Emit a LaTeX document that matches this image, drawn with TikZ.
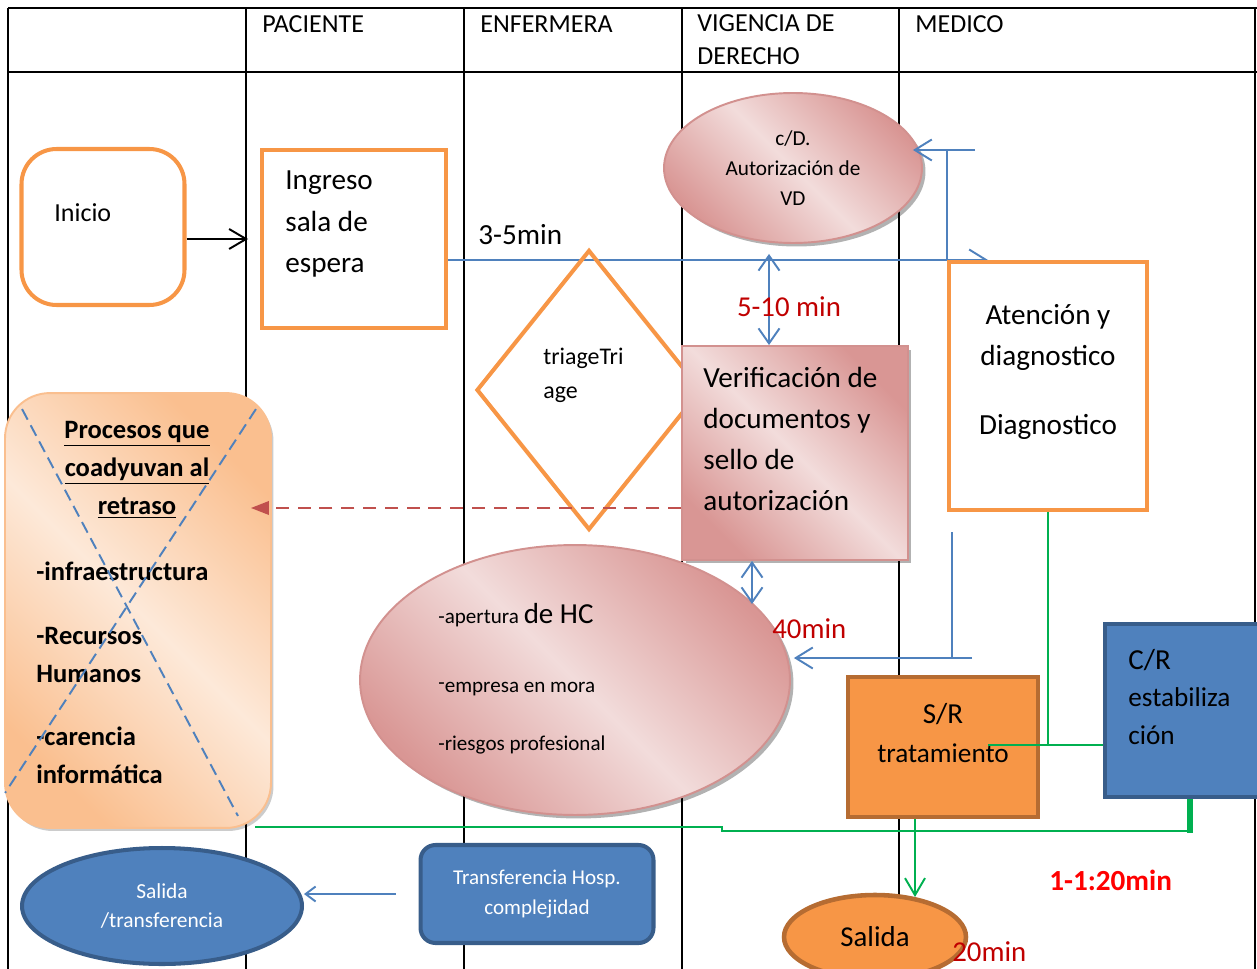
\documentclass[tikz,border=0pt]{standalone}
\usepackage{fontspec}
\setmainfont{Carlito}
\usetikzlibrary{arrows.meta, positioning, calc, shapes.geometric, shadows, backgrounds}

\definecolor{wdorange}{RGB}{247,150,70}
\definecolor{wdbrown}{RGB}{182,108,50}
\definecolor{wdblue}{RGB}{79,129,189}
\definecolor{wdnavy}{RGB}{56,93,138}
\definecolor{pinkdk}{RGB}{217,150,148}
\definecolor{pinklt}{RGB}{242,220,219}
\definecolor{pinkbd}{RGB}{210,145,143}
\definecolor{peachdk}{RGB}{250,191,143}
\definecolor{peachlt}{RGB}{253,233,217}
\definecolor{wdred}{RGB}{192,0,0}
\definecolor{dashred}{RGB}{192,80,77}
\definecolor{wdgreen}{RGB}{0,176,80}

\newcommand{\fsz}[2]{\fontsize{#1}{#2}\selectfont}

\begin{document}
\begin{tikzpicture}[
    x=0.02cm, y=-0.02cm,
    font=\fsz{16.6}{23.5},
    lane/.style={line width=1.1pt, black},
    txt/.style={inner sep=0pt, align=left, anchor=west},
    hdr/.style={txt, font=\fsz{14.8}{18.7}},
    redlbl/.style={txt, text=wdred, font=\fsz{16.4}{20}},
    obox/.style={draw=wdorange, line width=2.3pt, inner sep=0pt},
    orbox/.style={draw=wdbrown, line width=2.6pt, fill=wdorange, inner sep=0pt},
    bluebox/.style={draw=wdnavy, line width=2.3pt, fill=wdblue, inner sep=0pt},
    pinkshape/.style={draw=pinkbd, line width=1.1pt, inner sep=0pt,
        left color=pinkdk, right color=pinkdk, middle color=pinklt, shading angle=135,
        drop shadow={shadow xshift=0.07cm, shadow yshift=-0.07cm, fill=black, opacity=0.3}},
    peachshape/.style={draw=peachdk, line width=1.1pt, inner sep=0pt,
        left color=peachdk, right color=peachdk, middle color=peachlt, shading angle=135,
        drop shadow={shadow xshift=0.05cm, shadow yshift=-0.06cm, fill=black, opacity=0.2}},
    lineb/.style={draw=wdblue, line width=1.1pt},
    flowb/.style={lineb, -{Straight Barb[length=0.34cm, width=0.42cm]}},
    dflowb/.style={lineb, {Straight Barb[length=0.3cm, width=0.42cm]}-{Straight Barb[length=0.3cm, width=0.42cm]}},
    flowk/.style={line width=1.1pt, black, -{Straight Barb[length=0.34cm, width=0.4cm]}},
    redflow/.style={draw=dashred, line width=1.1pt, dash pattern=on 7.4pt off 5pt,
        -{Triangle[length=0.36cm, width=0.27cm]}},
    xline/.style={draw=wdblue, line width=1.1pt, dash pattern=on 6.8pt off 3.6pt},
    lineg/.style={draw=wdgreen, line width=1.1pt},
    flowg/.style={lineg, -{Straight Barb[length=0.34cm, width=0.4cm]}},
]
\useasboundingbox (0,0) rectangle (1257,969);

% lane headers
\node[hdr] (hpac) at (262,24) {PACIENTE};
\node[hdr] (henf) at (480,24) {ENFERMERA};
\node[hdr] (hvig) at (697,40) {VIGENCIA DE\\DERECHO};
\node[hdr] (hmed) at (915,24) {MEDICO};

% first row: start, waiting room, authorisation
\node[obox, rounded corners=0.7cm, minimum width=3.26cm, minimum height=3.12cm] (inicio) at (103,227) {};
\node[txt, font=\fsz{14.8}{18}] (inicio-t) at (54,213) {Inicio};
\node[obox, minimum width=3.68cm, minimum height=3.56cm] (ingreso) at (354,239) {};
\node[txt] (ingreso-t) at (285,224) {Ingreso\\sala de\\espera};
\node[txt] (t35) at (478,235) {3-5min};
\node[pinkshape, ellipse, minimum width=5.16cm, minimum height=3cm,
      font=\fsz{12.1}{17}, align=center] (vd) at (793,168) {c/D.\\Autorización de\\VD};

% triage, document check, doctor
\node[obox, diamond, minimum width=4.5cm, minimum height=5.6cm] (triage) at (589,390) {};
\node[txt, font=\fsz{13.6}{19.3}] (triage-t) at (543,375) {triageTri\\age};
\node[pinkshape, minimum width=4.52cm, minimum height=4.28cm] (verif) at (795,453) {};
\node[txt] (verif-t) at (703,439) {Verificación de\\documentos y\\sello de\\autorización};
\node[obox, fill=white, minimum width=3.96cm, minimum height=4.96cm] (atencion) at (1048,386) {};
\node[txt, anchor=center, align=center] (atencion-t) at (1048,372) {Atención y\\diagnostico\\[15.5pt]Diagnostico};

% crossed-out box of delaying factors
\node[peachshape, rounded corners=0.9cm, minimum width=5.32cm, minimum height=8.7cm] (procesos) at (138,610.5) {};
\node[txt, anchor=center, align=center, font=\bfseries\fsz{15.1}{21.5}] (procesos-t) at (137,470)
     {\underline{Procesos que}\\\underline{coadyuvan al}\\\underline{retraso}};
\node[txt, font=\bfseries\fsz{15.1}{21.5}] (procesos-l) at (36,673)
     {-infraestructura\\[14.8pt]-Recursos\\Humanos\\[14.8pt]-carencia\\informática};
\draw[xline] ($(procesos.north west)+(18,17)$) -- ($(procesos.south east)+(-34,-13)$);
\draw[xline] ($(procesos.north east)+(-16,17)$) -- ($(procesos.south west)+(1,-36)$);

% clinical history and treatment
\node[pinkshape, ellipse, minimum width=8.6cm, minimum height=5.4cm] (hc) at (575,680) {};
\node[txt, font=\fsz{12}{17}] (hc-t) at (438,679)
     {-apertura {\fsz{16.5}{17}de HC}\\[22pt]\raisebox{0.12em}{-}empresa en mora\\[16.5pt]-riesgos profesional};
\node[redlbl] (t40) at (772,629) {40min};
\node[orbox, minimum width=3.8cm, minimum height=2.8cm] (sr) at (943,747) {};
\node[txt, anchor=center, align=center, font=\fsz{15.5}{22}] (sr-t) at (943,733) {{\fsz{16.5}{22}S/R}\\tratamiento};
\node[bluebox, minimum width=3.14cm, minimum height=3.46cm] (cr) at (1183.5,710.5) {};
\node[txt, font=\fsz{15.5}{21.5}] (cr-t) at (1128,697) {{\fsz{16.5}{21.5}C/R}\\estabiliza\\ción};
\node[txt, text=red, font=\bfseries\fsz{16.6}{20}] (t120) at (1049,880) {1-1:20min};

% exits
\node[orbox, ellipse, minimum width=3.64cm, minimum height=1.68cm, font=\fsz{16.4}{20}] (salida) at (875,937) {Salida};
\node[redlbl] (t20) at (952,952) {20min};
\node[bluebox, ellipse, minimum width=5.6cm, minimum height=2.32cm, text=white,
      align=center, font=\fsz{12.2}{17}] (saltrans) at (162,906) {Salida\\/transferencia};
\node[bluebox, rounded corners=0.3cm, minimum width=4.66cm, minimum height=1.96cm, text=white,
      align=center, font=\fsz{12}{17}] (transf) at (537,894) {Transferencia Hosp.\\complejidad};

% free ends of connectors
\coordinate (vdin) at (975,150);
\coordinate (hcup) at (952,532);
\coordinate (hcin) at (972,658);
\coordinate (srin) at (988,745);
\coordinate (gst)  at (255,827);
\coordinate (rd)   at ([yshift=-1.1cm]verif.west);

% connectors
\draw[flowk] (inicio.east |- ingreso.west) -- ([xshift=-0.24cm]ingreso.west);
\draw[lineb] (atencion.north west) -- (atencion.north west |- vdin);
\draw[flowb, shorten >=-0.2cm] (vdin) -- (vd.east |- vdin);
\draw[dflowb, shorten >=0.2cm] ([xshift=-0.52cm]verif.north) -- ([xshift=-0.52cm]verif.north |- vd.south)
     node[redlbl, anchor=center, pos=0.5, xshift=0.4cm, yshift=-0.24cm] (t510) {5-10 min};
\draw[dflowb] ([xshift=-0.86cm]verif.south) -- ([xshift=-0.86cm]verif.south |- hc.23);
\draw[redflow] (rd) -- ([xshift=-0.42cm]procesos.east |- rd);
\draw[lineb] (hcup) -- (hcup |- hcin);
\draw[flowb, shorten >=0.06cm] (hcin) -- (hc.east |- hcin);
\draw[lineg] (atencion.south) -- (atencion.south |- srin);
\draw[lineg] (srin) -- (cr.west |- srin);
\draw[lineg] (gst) -- ++(467,0) -- ++(0,4) -| ([xshift=0.13cm]cr.south);
\draw[lineg, line width=3.4pt] ([xshift=0.13cm]cr.south) -- ++(0,34);
\draw[flowg] ([xshift=-0.56cm]sr.south) -- ([xshift=-0.56cm]sr.south |- salida.45);
\draw[lineb, -{Straight Barb[length=0.2cm, width=0.3cm]}] ([xshift=-0.46cm]transf.west) -- (saltrans.east |- transf.west);

% table lines and the hidden arrow behind the doctor box
\begin{scope}[on background layer]
  \foreach \cx in {8,246,464,682,899,1255}
    \draw[lane] (\cx,8) -- (\cx,969);
  \draw[lane] (8,8) -- (1257,8);
  \draw[lane, line width=1.7pt] (8,72) -- (1257,72);
  \draw[flowb] (ingreso.east |- atencion.north west) -- ([xshift=0.82cm]atencion.north west);
\end{scope}
\end{tikzpicture}
\end{document}
